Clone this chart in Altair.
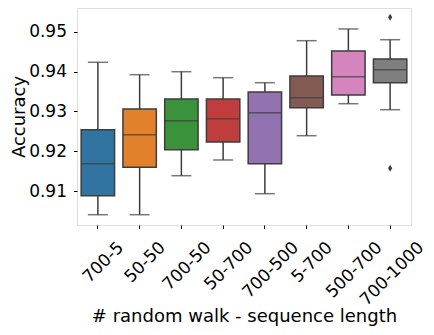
import altair as alt
import pandas as pd

categories = ["700-5", "50-50", "700-50", "50-700", "700-500", "5-700", "500-700", "700-1000"]
whisker_low = [0.9042, 0.9042, 0.91395, 0.91788, 0.90945, 0.92395, 0.93195, 0.93045]
q1 = [0.90895, 0.91605, 0.92045, 0.92238, 0.91695, 0.93095, 0.93413, 0.9372]
median = [0.91695, 0.9242, 0.9277, 0.9282, 0.9297, 0.93345, 0.9387, 0.94045]
q3 = [0.92545, 0.93063, 0.93313, 0.93313, 0.93488, 0.93888, 0.94513, 0.94313]
whisker_high = [0.9423, 0.9392, 0.93995, 0.93845, 0.9372, 0.9477, 0.95063, 0.94795]
outlier_cat = ["700-1000", "700-1000"]
outlier_val = [0.95355, 0.9158]
colors = ["#3274a1", "#e1812c", "#3a923a", "#c03d3e", "#9372b2", "#845b53", "#d684bd", "#7f7f7f"]

line_col = "#3d3d3d"
FONT = "DejaVu Sans"

df = pd.DataFrame({
    "cat": categories, "low": whisker_low, "q1": q1, "med": median,
    "q3": q3, "high": whisker_high,
})
out = pd.DataFrame({"cat": outlier_cat, "val": outlier_val})

# matplotlib-like label placement: center of rotated bbox at tick
label_offsets = {
    "condition": [
        {"test": "length(datum.value) == 6", "value": 27},
        {"test": "length(datum.value) == 7", "value": 31},
        {"test": "length(datum.value) == 8", "value": 31},
    ],
    "value": 23,
}

x_enc = alt.X(
    "cat:N", sort=categories,
    scale=alt.Scale(paddingInner=0, paddingOuter=0),
    axis=alt.Axis(
        title="# random walk - sequence length", labelAngle=-45,
        labelAlign="right", labelBaseline="middle",
        labelOffset=label_offsets, labelPadding=16,
        labelFont=FONT, labelFontSize=17, labelColor="black",
        titleFont=FONT, titleFontSize=18, titleFontWeight="normal", titleColor="black",
        titleBaseline="alphabetic", titleY=96,
        tickSize=3.5, tickColor="black", domain=False, grid=False,
    ),
)
y_scale = alt.Scale(domain=[0.901625, 0.955875], nice=False, zero=False)
y_axis = alt.Axis(
    title="Accuracy", values=[0.91, 0.92, 0.93, 0.94, 0.95], format=".2f",
    labelFont=FONT, labelFontSize=17, labelColor="black", labelPadding=7,
    titleFont=FONT, titleFontSize=18, titleFontWeight="normal", titleColor="black",
    titleBaseline="alphabetic", titleX=-53,
    tickSize=3.5, tickColor="black", domain=False, grid=False,
)

base = alt.Chart(df)

whisk = base.mark_rule(color=line_col, strokeWidth=1.5).encode(
    x=x_enc, y=alt.Y("low:Q", scale=y_scale, axis=y_axis), y2="high:Q"
)
box = base.mark_bar(width={"band": 0.8}, stroke=line_col, strokeWidth=1.5).encode(
    x=alt.X("cat:N", sort=categories),
    y="q1:Q", y2="q3:Q",
    color=alt.Color("cat:N", sort=categories,
                    scale=alt.Scale(domain=categories, range=colors), legend=None),
)
med = base.mark_tick(color=line_col, thickness=1.5, size=33.4, orient="horizontal").encode(
    x=alt.X("cat:N", sort=categories), y="med:Q"
)
cap_lo = base.mark_tick(color=line_col, thickness=1.5, size=20, orient="horizontal").encode(
    x=alt.X("cat:N", sort=categories), y="low:Q"
)
cap_hi = base.mark_tick(color=line_col, thickness=1.5, size=20, orient="horizontal").encode(
    x=alt.X("cat:N", sort=categories), y="high:Q"
)
pts = alt.Chart(out).mark_point(
    shape="M0,-1L0.6,0L0,1L-0.6,0Z", filled=True, color=line_col, size=49, opacity=1
).encode(x=alt.X("cat:N", sort=categories), y="val:Q")

chart = alt.layer(whisk, box, med, cap_lo, cap_hi, pts).properties(
    width=334, height=217,
    autosize=alt.AutoSizeParams(type="none"),
    padding={"left": 69, "top": 0, "right": 15, "bottom": 102},
).configure_view(stroke="#222222", strokeWidth=1.2).configure(background="white")

chart.save("out.html", embed_options={"renderer": "svg", "actions": False})
